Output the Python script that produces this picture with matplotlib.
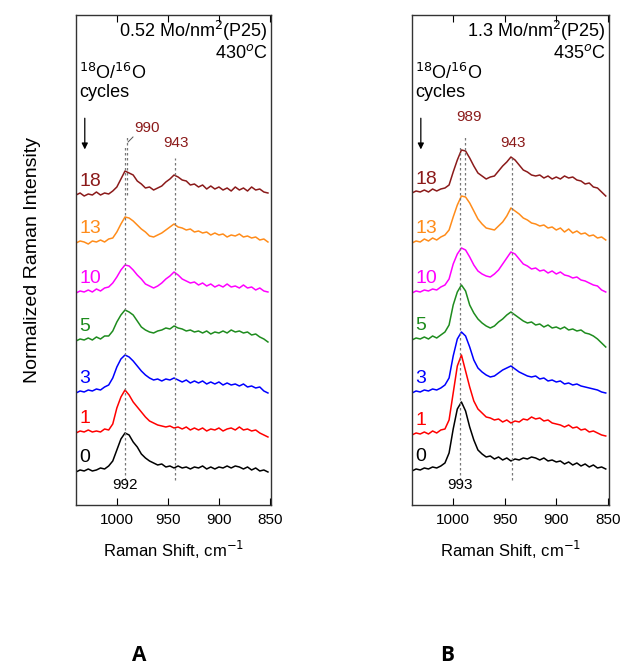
import numpy as np
import matplotlib
matplotlib.use('Agg')
import matplotlib.pyplot as plt

plt.rcParams['font.family'] = ['Liberation Sans', 'DejaVu Sans']

# Raman shift grid, cm-1 (every 4 cm-1)
shift = np.arange(1040, 850, -4)

cycles = ['0', '1', '3', '5', '10', '13', '18']
colors = ['black', '#ff0000', '#0000ff', '#1e8c1e', '#ff00ff', '#ff8c1a', '#8b1a1a']

# panel A: 0.52 Mo/nm2, stacked normalized intensities
a_0 = [3.3, 3.5, 3.4, 3.6, 3.4, 3.5, 3.7, 3.6, 3.9, 4.4, 5.5, 6.6, 7.2, 7.0, 6.3, 5.8,
       5.1, 4.7, 4.4, 4.2, 4.0, 4.1, 3.8, 3.9, 3.7, 3.9, 3.7, 3.8, 3.6, 3.8, 3.7, 3.9,
       3.6, 3.8, 3.6, 3.8, 3.7, 3.9, 3.7, 3.9, 3.8, 3.6, 3.8, 3.5, 3.7, 3.4, 3.5, 3.3]
a_1 = [7.2, 7.4, 7.3, 7.5, 7.3, 7.4, 7.3, 7.6, 7.5, 8.1, 9.7, 10.8, 11.5, 11.0, 10.3, 9.8,
       9.3, 8.8, 8.4, 8.2, 8.0, 7.9, 7.8, 7.9, 7.7, 7.8, 7.6, 7.8, 7.5, 7.7, 7.5, 7.7,
       7.4, 7.6, 7.5, 7.7, 7.4, 7.6, 7.7, 7.5, 7.8, 7.5, 7.6, 7.4, 7.5, 7.2, 7.0, 6.8]
a_3 = [11.2, 11.4, 11.3, 11.5, 11.4, 11.6, 11.5, 11.8, 12.0, 12.7, 13.8, 14.6, 15.0, 14.8, 14.4, 13.9,
       13.4, 13.0, 12.7, 12.5, 12.6, 12.4, 12.6, 12.5, 12.7, 12.5, 12.3, 12.5, 12.2, 12.4, 12.2, 12.4,
       12.1, 12.3, 12.1, 12.3, 12.0, 12.2, 12.0, 12.1, 11.9, 12.1, 11.8, 11.9, 11.7, 11.8, 11.4, 11.2]
a_5 = [16.4, 16.6, 16.5, 16.7, 16.5, 16.8, 16.6, 16.9, 16.9, 17.4, 18.3, 19.0, 19.5, 19.3, 19.0, 18.4,
       17.8, 17.5, 17.3, 17.2, 17.4, 17.5, 17.7, 17.6, 17.9, 17.7, 17.6, 17.4, 17.5, 17.3, 17.4, 17.2,
       17.4, 17.1, 17.3, 17.2, 17.4, 17.2, 17.5, 17.3, 17.4, 17.2, 17.3, 17.0, 17.1, 16.8, 16.6, 16.3]
a_10 = [21.2, 21.4, 21.3, 21.5, 21.3, 21.6, 21.4, 21.7, 21.8, 22.2, 22.8, 23.5, 24.0, 23.9, 23.5, 23.0,
        22.6, 22.1, 21.9, 21.7, 21.9, 22.2, 22.6, 22.9, 23.3, 23.0, 22.6, 22.4, 22.2, 22.3, 22.0, 22.2,
        21.9, 22.1, 21.8, 22.0, 21.8, 22.1, 21.8, 21.9, 21.7, 22.0, 21.7, 21.8, 21.5, 21.7, 21.4, 21.3]
a_13 = [26.2, 26.4, 26.3, 26.1, 26.4, 26.3, 26.5, 26.3, 26.6, 26.7, 27.3, 28.1, 28.8, 28.7, 28.4, 28.0,
        27.6, 27.3, 26.9, 26.8, 27.0, 27.2, 27.5, 27.8, 28.1, 27.8, 27.7, 27.5, 27.6, 27.3, 27.4, 27.2,
        27.3, 27.0, 27.2, 27.0, 27.1, 26.8, 27.0, 26.9, 27.1, 26.8, 26.9, 26.7, 26.8, 26.5, 26.6, 26.3]
a_18 = [31.0, 31.2, 30.9, 31.1, 31.0, 31.3, 31.0, 31.2, 31.1, 31.4, 31.8, 32.6, 33.4, 33.2, 33.0, 32.4,
        32.1, 31.7, 31.8, 31.5, 31.7, 31.9, 32.3, 32.6, 33.0, 32.8, 32.5, 32.4, 32.0, 32.1, 31.8, 32.0,
        31.6, 31.9, 31.6, 31.8, 31.5, 31.7, 31.4, 31.8, 31.5, 31.7, 31.4, 31.8, 31.5, 31.6, 31.3, 31.2]

# panel B: 1.3 Mo/nm2
b_0 = [3.4, 3.6, 3.5, 3.7, 3.6, 3.8, 3.7, 3.9, 4.2, 5.2, 7.6, 9.6, 10.3, 9.4, 7.8, 6.5,
       5.5, 5.1, 4.8, 4.9, 4.6, 4.8, 4.5, 4.7, 4.4, 4.6, 4.5, 4.7, 4.6, 4.8, 4.7, 4.5,
       4.7, 4.4, 4.5, 4.3, 4.4, 4.1, 4.3, 4.0, 4.2, 3.9, 4.1, 3.8, 4.0, 3.7, 3.8, 3.6]
b_1 = [7.0, 7.2, 7.1, 7.3, 7.1, 7.4, 7.2, 7.5, 7.6, 8.5, 11.2, 13.9, 15.0, 13.4, 11.8, 10.4,
       9.6, 9.2, 8.8, 8.7, 8.5, 8.6, 8.3, 8.5, 8.2, 8.4, 8.3, 8.6, 8.5, 8.8, 8.6, 8.7,
       8.4, 8.5, 8.2, 8.1, 8.0, 7.8, 8.0, 7.7, 7.8, 7.5, 7.6, 7.3, 7.4, 7.2, 7.0, 6.9]
b_3 = [11.2, 11.4, 11.3, 11.5, 11.4, 11.6, 11.5, 11.7, 12.0, 12.7, 14.9, 16.6, 17.3, 16.9, 15.8, 14.5,
       13.7, 13.3, 13.0, 12.8, 12.9, 13.2, 13.5, 13.7, 13.9, 13.6, 13.3, 13.1, 12.9, 12.8, 12.9, 12.6,
       12.7, 12.4, 12.5, 12.3, 12.4, 12.1, 12.2, 12.0, 12.1, 11.9, 11.8, 11.7, 11.6, 11.5, 11.3, 11.2]
b_5 = [16.5, 16.7, 16.6, 16.8, 16.6, 16.9, 16.7, 17.0, 17.3, 18.0, 20.0, 21.3, 22.0, 21.4, 20.0, 19.2,
       18.6, 18.2, 17.9, 17.7, 17.9, 18.3, 18.6, 19.0, 19.3, 19.0, 18.7, 18.4, 18.2, 18.3, 18.0, 18.1,
       17.8, 18.0, 17.7, 17.8, 17.6, 17.8, 17.5, 17.6, 17.4, 17.5, 17.2, 17.1, 16.9, 16.6, 16.2, 15.8]
b_10 = [21.2, 21.4, 21.3, 21.5, 21.4, 21.6, 21.5, 21.8, 22.0, 22.6, 24.1, 25.1, 25.7, 25.5, 24.8, 24.0,
        23.4, 23.1, 22.9, 22.8, 23.1, 23.5, 24.1, 24.7, 25.3, 25.1, 24.6, 24.1, 23.9, 23.6, 23.7, 23.4,
        23.5, 23.2, 23.4, 23.1, 23.3, 23.0, 22.9, 22.7, 22.8, 22.5, 22.4, 22.2, 22.0, 21.9, 21.5, 21.3]
b_13 = [26.2, 26.4, 26.3, 26.6, 26.4, 26.7, 26.5, 26.8, 27.0, 27.5, 28.8, 30.0, 30.9, 30.8, 30.2, 29.4,
        28.6, 28.1, 27.7, 27.6, 27.5, 27.9, 28.3, 28.9, 29.7, 29.4, 29.1, 28.7, 28.5, 28.2, 28.1, 27.9,
        28.0, 27.7, 27.8, 27.5, 27.7, 27.3, 27.6, 27.2, 27.4, 27.1, 27.2, 26.9, 27.0, 26.7, 26.8, 26.5]
b_18 = [31.2, 31.4, 31.3, 31.5, 31.3, 31.6, 31.4, 31.6, 31.7, 32.0, 33.3, 34.5, 35.5, 35.4, 34.7, 33.9,
        33.2, 32.9, 32.6, 32.8, 32.9, 33.4, 33.9, 34.3, 34.8, 34.5, 34.0, 33.5, 33.3, 33.0, 32.9, 33.0,
        32.7, 32.9, 32.6, 32.8, 32.6, 32.9, 32.7, 32.8, 32.5, 32.4, 32.1, 32.2, 31.8, 31.7, 31.3, 30.9]

a_series = [a_0, a_1, a_3, a_5, a_10, a_13, a_18]
b_series = [b_0, b_1, b_3, b_5, b_10, b_13, b_18]

dark_red = '#8b1a1a'

fig = plt.figure(figsize=(6.21, 6.67), dpi=100)
axA = fig.add_axes([0.1224, 0.2429, 0.314, 0.7346])
axB = fig.add_axes([0.6634, 0.2429, 0.317, 0.7346])


def draw_panel(ax, series, title, temp, top_peak, low_peak):
    for vals, c, lab in zip(series, colors, cycles):
        ax.plot(shift, vals, color=c, lw=1.1)
        ax.text(1037, vals[0] + 1.4, lab, color=c, fontsize=14, va='center', ha='left')
    ax.set_xlim(1040, 849)
    ax.set_ylim(0, 49)
    ax.set_xticks([1000, 950, 900, 850])
    ax.tick_params(axis='x', direction='in', top=True, length=5, labelsize=11, pad=6)
    ax.set_yticks([])
    for s in ax.spines.values():
        s.set_linewidth(1.0)
        s.set_color('#333333')
    ax.set_xlabel('Raman Shift, cm$^{-1}$', fontsize=12, labelpad=8)

    # dashed guide lines
    ax.plot([low_peak, low_peak], [2.5, 35.8], ls=(0, (2, 2)), color='#777777', lw=0.9)
    ax.plot([943, 943], [2.5, 34.7], ls=(0, (2, 2)), color='#777777', lw=0.9)
    ax.plot([top_peak, top_peak], [31.0, 37.0], ls=(0, (2, 2)), color='#777777', lw=0.9)

    ax.text(0.985, 0.968, title, transform=ax.transAxes, ha='right', va='center', fontsize=13)
    ax.text(0.985, 0.922, temp, transform=ax.transAxes, ha='right', va='center', fontsize=13)
    ax.text(0.015, 0.882, '$^{18}$O/$^{16}$O', transform=ax.transAxes, ha='left', va='center',
            fontsize=13)
    ax.text(0.015, 0.842, 'cycles', transform=ax.transAxes, ha='left', va='center', fontsize=13)
    ax.annotate('', xy=(0.045, 0.72), xytext=(0.045, 0.795), xycoords='axes fraction',
                arrowprops=dict(arrowstyle='-|>', color='black', lw=0.9, mutation_scale=9))
    ax.text(low_peak, 2.0, str(low_peak), ha='center', va='center', fontsize=11)
    ax.text(941.6, 36.2, '943', ha='center', va='center', fontsize=11, color=dark_red)


draw_panel(axA, a_series, '0.52 Mo/nm$^2$(P25)', '430$^o$C', 990, 992)
axA.text(982.5, 37.7, '990', ha='left', va='center', fontsize=11, color=dark_red)
axA.plot([989.0, 984.2], [36.3, 36.8], color='#555555', lw=0.7)
axA.set_ylabel('Normalized Raman Intensity', fontsize=14, labelpad=25)

draw_panel(axB, b_series, '1.3 Mo/nm$^2$(P25)', '435$^o$C', 989, 993)
axB.text(985.0, 38.8, '989', ha='center', va='center', fontsize=11, color=dark_red)

fig.text(0.224, 0.002, 'A', ha='center', va='bottom', fontsize=15, fontweight='bold',
         family=['Open Sans', 'DejaVu Sans'])
fig.text(0.72, 0.002, 'B', ha='center', va='bottom', fontsize=15, fontweight='bold',
         family=['Open Sans', 'DejaVu Sans'])

fig.savefig('out.png', dpi=100)
